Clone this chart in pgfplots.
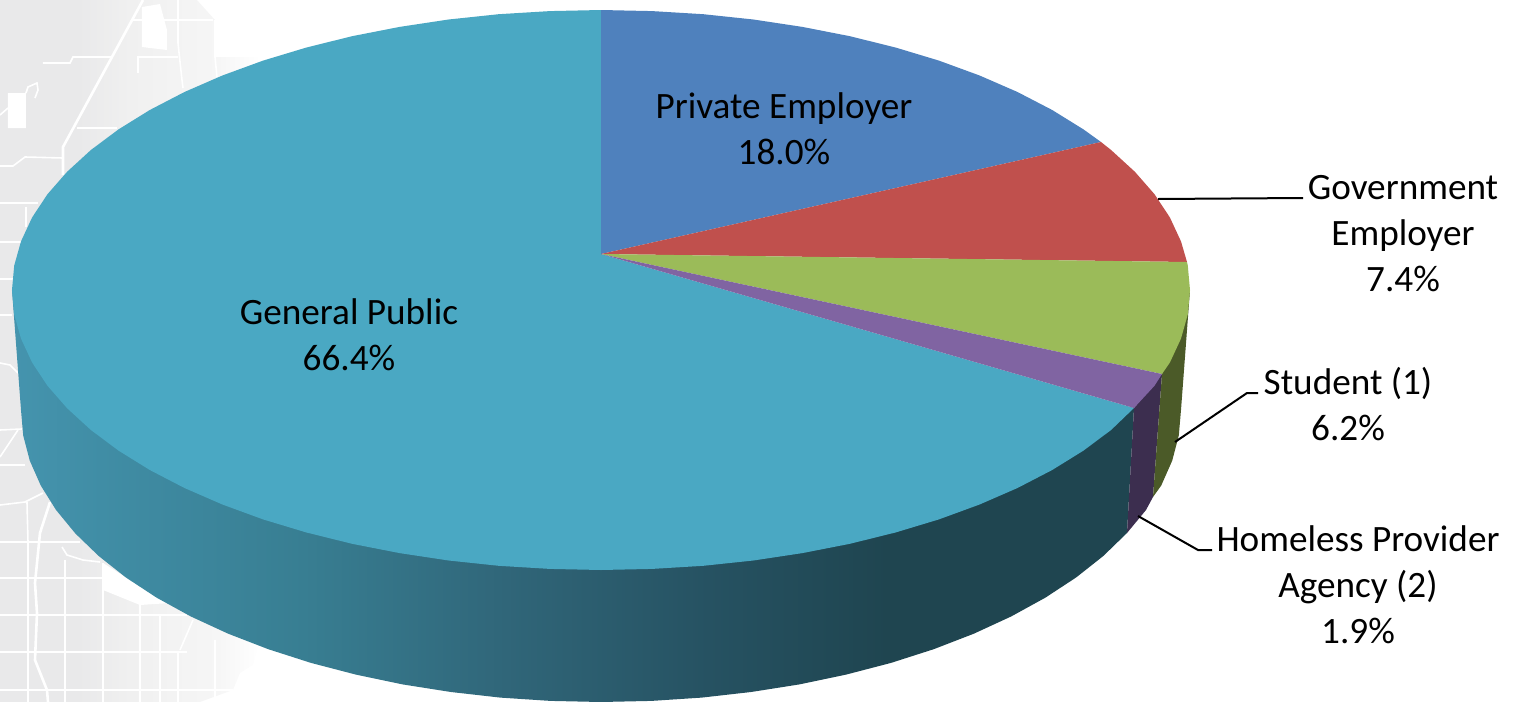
\documentclass[border=0pt]{standalone}
\usepackage{pgfplots}
\pgfplotsset{compat=1.18}
\usepackage{fontspec}
\setmainfont{Carlito}

\definecolor{pblue}{HTML}{4F81BD}
\definecolor{pred}{HTML}{C0504D}
\definecolor{pgreen}{HTML}{9BBB59}
\definecolor{ppurple}{HTML}{8064A2}
\definecolor{pteal}{HTML}{4AA8C3}
\definecolor{sgreen}{HTML}{4B5A28}
\definecolor{spurple}{HTML}{3C2E4F}
\definecolor{sa}{RGB}{69,148,174}
\definecolor{sb}{RGB}{64,141,165}
\definecolor{sc}{RGB}{56,126,146}
\definecolor{sd}{RGB}{48,102,121}
\definecolor{se}{RGB}{38,82,98}
\definecolor{sf}{RGB}{31,69,80}
\definecolor{ma}{RGB}{233,233,234}
\definecolor{mb}{RGB}{240,240,240}
\definecolor{mc}{RGB}{246,246,246}
\definecolor{md}{RGB}{255,255,255}

\tikzset{
    road/.style={draw=white, line width=0.8pt, mark=none},
    mainroad/.style={draw=white, line width=1.3pt, mark=none},
    lab/.style={align=center, text=black, inner sep=0pt,
        font=\fontsize{18.6pt}{23pt}\selectfont},
    lead/.style={draw=black, line width=1pt, mark=none},
}

% the picture fits the middle 50bp of a 100bp shading
\pgfdeclarehorizontalshading{sideshade}{100bp}{
  color(0bp)=(sa);
  color(25bp)=(sa);
  color(29bp)=(sb);
  color(38bp)=(sc);
  color(47bp)=(sd);
  color(56bp)=(se);
  color(64bp)=(sf);
  color(100bp)=(sf)}
\pgfdeclarehorizontalshading{mapfade}{100bp}{
  color(0bp)=(ma);
  color(40bp)=(ma);
  color(50bp)=(mb);
  color(67bp)=(mc);
  color(75bp)=(md);
  color(100bp)=(md)}

\begin{document}
\begin{tikzpicture}
\path[use as bounding box] (0,0) rectangle (758.5pt,351pt);
\begin{axis}[
    at={(0,0)}, anchor=south west,
    scale only axis,
    width=758.5pt, height=351pt,
    xmin=0, xmax=1517,
    ymin=0, ymax=702,
    y dir=reverse,
    hide axis,
    clip=false,
]
% faded map behind the pie
\addplot[draw=none, mark=none, shading=mapfade] coordinates {
    (0,0) (197,0) (215,20) (215,57) (260,57) (260,640) (253,665) (240,673) (233,690) (200,702) (0,702) (0,0)};
\addplot[fill=white, draw=none, mark=none] coordinates {(103,563) (103,590) (140,605) (170,603) (130,580) (103,563)};
\addplot[fill=white, draw=none, mark=none] coordinates {(8,93) (26,93) (26,128) (8,128) (8,93)};
\addplot[fill=white, draw=none, mark=none] coordinates {(142,7) (160,4) (167,30) (167,50) (142,47) (142,7)};
\addplot[mainroad] coordinates {(143,0) (63,147) (63,175)};
\addplot[road] coordinates {(43,63) (70,63) (73,57) (113,57)};
\addplot[road] coordinates {(77,128) (117,128)};
\addplot[road] coordinates {(0,166) (13,166) (25,157) (63,158)};
\addplot[road] coordinates {(0,203) (38,203)};
\addplot[road] coordinates {(26,207) (26,227)};
\addplot[road] coordinates {(0,242) (26,242)};
\addplot[road] coordinates {(0,279) (13,279)};
\addplot[road] coordinates {(178,0) (178,43) (182,80) (183,88)};
\addplot[road] coordinates {(133,20) (213,20)};
\addplot[road] coordinates {(138,73) (138,57) (178,57)};
\addplot[road] coordinates {(215,20) (215,57) (217,77)};
\addplot[road] coordinates {(0,115) (8,108)};
\addplot[road] coordinates {(26,93) (28,87) (37,83) (38,90) (35,98)};
\addplot[road] coordinates {(0,315) (12,315)};
\addplot[road] coordinates {(0,363) (10,365) (18,373)};
\addplot[road] coordinates {(0,430) (22,429)};
\addplot[road] coordinates {(0,457) (10,442) (18,430)};
\addplot[road] coordinates {(0,465) (25,465)};
\addplot[road] coordinates {(0,505) (25,502) (43,493)};
\addplot[road] coordinates {(27,502) (28,542) (28,702)};
\addplot[mainroad] coordinates {(50,502) (40,533) (35,583) (37,613) (35,660) (47,690) (48,702)};
\addplot[road] coordinates {(0,542) (80,542)};
\addplot[road] coordinates {(0,578) (123,578)};
\addplot[road] coordinates {(0,615) (187,615)};
\addplot[road] coordinates {(0,652) (187,652)};
\addplot[road] coordinates {(0,690) (233,690)};
\addplot[road] coordinates {(65,560) (65,702)};
\addplot[road] coordinates {(103,563) (103,702)};
\addplot[road] coordinates {(140,600) (140,702)};
\addplot[road] coordinates {(160,615) (160,702)};
\addplot[road] coordinates {(178,652) (178,702)};
\addplot[road] coordinates {(215,640) (215,702)};
\addplot[road] coordinates {(62,547) (67,555) (83,560) (100,562)};
\addplot[road] coordinates {(193,620) (180,650)};

% side wall
\addplot[draw=none, mark=none, shading=sideshade] coordinates {
    (1134,408) (1127,533) (1103.3,556) (1076.1,577.5) (1045.3,597.7) (1011.1,616.5)
    (973.8,633.7) (933.7,649.2) (891,662.9) (846.1,674.6) (799.4,684.4) (751.1,692)
    (701.7,697.6) (651.6,700.9) (601,702) (550.4,700.9) (500.3,697.6) (450.9,692)
    (402.6,684.4) (355.9,674.6) (311,662.9) (268.3,649.2) (228.2,633.7) (190.9,616.5)
    (156.7,597.7) (125.9,577.5) (98.7,556) (75.3,533.4) (56,509.9) (40.8,485.6)
    (29.8,460.7) (23.2,435.5) (21,410) (12,290) (601,290) (1134,408)};
\addplot[fill=spurple, draw=none, mark=none] coordinates {
    (1162,374) (1153,497) (1146,510) (1127,533) (1134,408) (1162,374)};
\addplot[fill=sgreen, draw=none, mark=none] coordinates {
    (1190,290) (1181,410) (1178.8,435.5) (1172.2,460.7) (1161.2,485.6) (1153,497) (1162,374) (1190,290)};

% top face
\addplot[fill=pteal, draw=none, mark=none] coordinates {
    (601,254) (1134,408) (1111.1,430) (1083.5,450.6) (1052.2,470) (1017.5,488)
    (979.6,504.5) (938.9,519.4) (895.5,532.5) (849.9,543.8) (802.4,553.1) (753.4,560.5)
    (703.3,565.8) (652.3,568.9) (601,570) (549.7,568.9) (498.7,565.8) (448.6,560.5)
    (399.6,553.1) (352.1,543.8) (306.5,532.5) (263.1,519.4) (222.4,504.5) (184.5,488)
    (149.8,470) (118.5,450.6) (90.9,430) (67.2,408.3) (47.5,385.8) (32.1,362.5)
    (21,338.6) (14.2,314.4) (12,290) (14.2,265.6) (21,241.4) (32.1,217.5)
    (47.5,194.2) (67.2,171.7) (90.9,150) (118.5,129.4) (149.8,110) (184.5,92)
    (222.4,75.5) (263.1,60.6) (306.5,47.5) (352.1,36.2) (399.6,26.9) (448.6,19.5)
    (498.7,14.2) (549.7,11.1) (601,10) (601,254)};
\addplot[fill=pblue, draw=none, mark=none] coordinates {
    (601,254) (601,10) (652.3,11.1) (703.3,14.2) (753.4,19.5) (802.4,26.9) (849.9,36.2)
    (895.5,47.5) (938.9,60.6) (979.6,75.5) (1017.5,92) (1052.2,110) (1083.5,129.4)
    (1101,142) (601,254)};
\addplot[fill=pred, draw=none, mark=none] coordinates {
    (601,254) (1101,142) (1111.1,150) (1134.8,171.7) (1154.5,194.2) (1169.9,217.5)
    (1181,241.4) (1187,262) (601,254)};
\addplot[fill=pgreen, draw=none, mark=none] coordinates {
    (601,254) (1187,262) (1187.8,265.6) (1190,290) (1187.8,314.4) (1181,338.6)
    (1169.9,362.5) (1162,374) (601,254)};
\addplot[fill=ppurple, draw=none, mark=none] coordinates {
    (601,254) (1162,374) (1154.5,385.8) (1134,408) (601,254)};

% leader lines
\addplot[lead] coordinates {(1158,199) (1303,198)};
\addplot[lead] coordinates {(1175,442) (1247,393) (1258,393)};
\addplot[lead] coordinates {(1138,516) (1198,550) (1212,550)};

% labels
\node[lab] at (axis cs:784,129) {Private Employer\\18.0\%};
\node[lab] at (axis cs:349,335) {General Public\\66.4\%};
\node[lab] at (axis cs:1403,234) {Government\\Employer\\7.4\%};
\node[lab] at (axis cs:1348,404) {Student (1)\\6.2\%};
\node[lab] at (axis cs:1358,585) {Homeless Provider\\Agency (2)\\1.9\%};
\end{axis}
\end{tikzpicture}
\end{document}
